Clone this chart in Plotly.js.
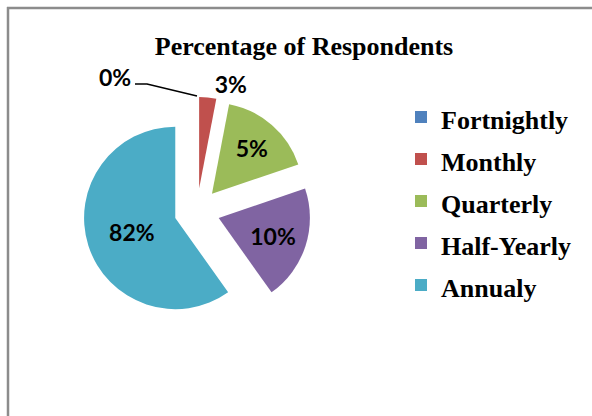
<!DOCTYPE html>
<html>
<head>
<meta charset="utf-8">
<script src="https://cdn.plot.ly/plotly-3.0.1.min.js"></script>
<style>
  html, body { margin: 0; padding: 0; background: #fff; }
  #chart { width: 592px; height: 416px; }
</style>
</head>
<body>
<div id="chart"></div>
<script>
  var categories = ["Fortnightly", "Monthly", "Quarterly", "Half-Yearly", "Annualy"];
  var sliceValues = [0, 3.0, 16.7, 20.3, 59.6];
  var shownPct = [0, 3, 5, 10, 82];
  var sliceColors = ["#4F81BD", "#C0504D", "#9BBB59", "#8064A2", "#4BACC6"];
  var textPos = ["none", "outside", "inside", "inside", "inside"];

  var W = 592, H = 416;
  var labelFont = { family: "Lato, 'Open Sans', sans-serif", size: 23, color: "#000", weight: "bold" };

  var texts = shownPct.map(function (p) { return p + "%"; });
  var legendNames = categories.map(function (c) {
    return '<span style="font-size:26px">' + c + '</span>';
  });

  const chartdata = [{
    type: "pie",
    labels: legendNames,
    values: sliceValues,
    text: texts,
    textinfo: "text",
    textposition: textPos,
    insidetextorientation: "horizontal",
    textfont: labelFont,
    sort: false,
    direction: "clockwise",
    rotation: 0,
    pull: 0.25,
    marker: { colors: sliceColors, line: { width: 0 } },
    domain: { x: [83 / W, 311 / W], y: [1 - 325 / H, 1 - 97 / H] },
    hoverinfo: "skip"
  }];

  const layout = {
    width: W,
    height: H,
    margin: { l: 0, r: 0, t: 0, b: 0 },
    paper_bgcolor: "#fff",
    title: {
      text: "Percentage of Respondents",
      font: { family: "'Liberation Serif', 'Times New Roman', serif", size: 26, color: "#000", weight: "bold" },
      x: 304 / W, xanchor: "center",
      y: 1 - 46 / H, yanchor: "middle"
    },
    showlegend: true,
    legend: {
      x: 401 / W, xanchor: "left",
      y: 1 - 91 / H, yanchor: "top",
      font: { family: "'Liberation Serif', 'Times New Roman', serif", size: 30, color: "#000", weight: "bold" },
      bgcolor: "rgba(0,0,0,0)",
      borderwidth: 0
    },
    annotations: [{
      text: "0%",
      font: labelFont,
      xref: "paper", yref: "paper",
      x: 115 / W, y: 1 - 77 / H,
      xanchor: "center", yanchor: "middle",
      showarrow: false
    }],
    shapes: [
      // leader line for the 0% label
      { type: "path", xref: "paper", yref: "paper",
        path: "M " + (135 / W) + "," + (1 - 84 / H) + " L " + (147 / W) + "," + (1 - 84 / H) +
              " L " + (197 / W) + "," + (1 - 96 / H),
        line: { color: "#000", width: 1.6 } },
      { type: "line", xref: "paper", yref: "paper", x0: 7 / W, x1: 1, y0: 1 - 8 / H, y1: 1 - 8 / H,
        line: { color: "#8c8c8c", width: 2.5 } },
      { type: "line", xref: "paper", yref: "paper", x0: 8 / W, x1: 8 / W, y0: 0, y1: 1 - 7 / H,
        line: { color: "#8c8c8c", width: 2.5 } }
    ]
  };

  const config = { displayModeBar: false, responsive: false };

  Plotly.newPlot("chart", chartdata, layout, config);
</script>
</body>
</html>
